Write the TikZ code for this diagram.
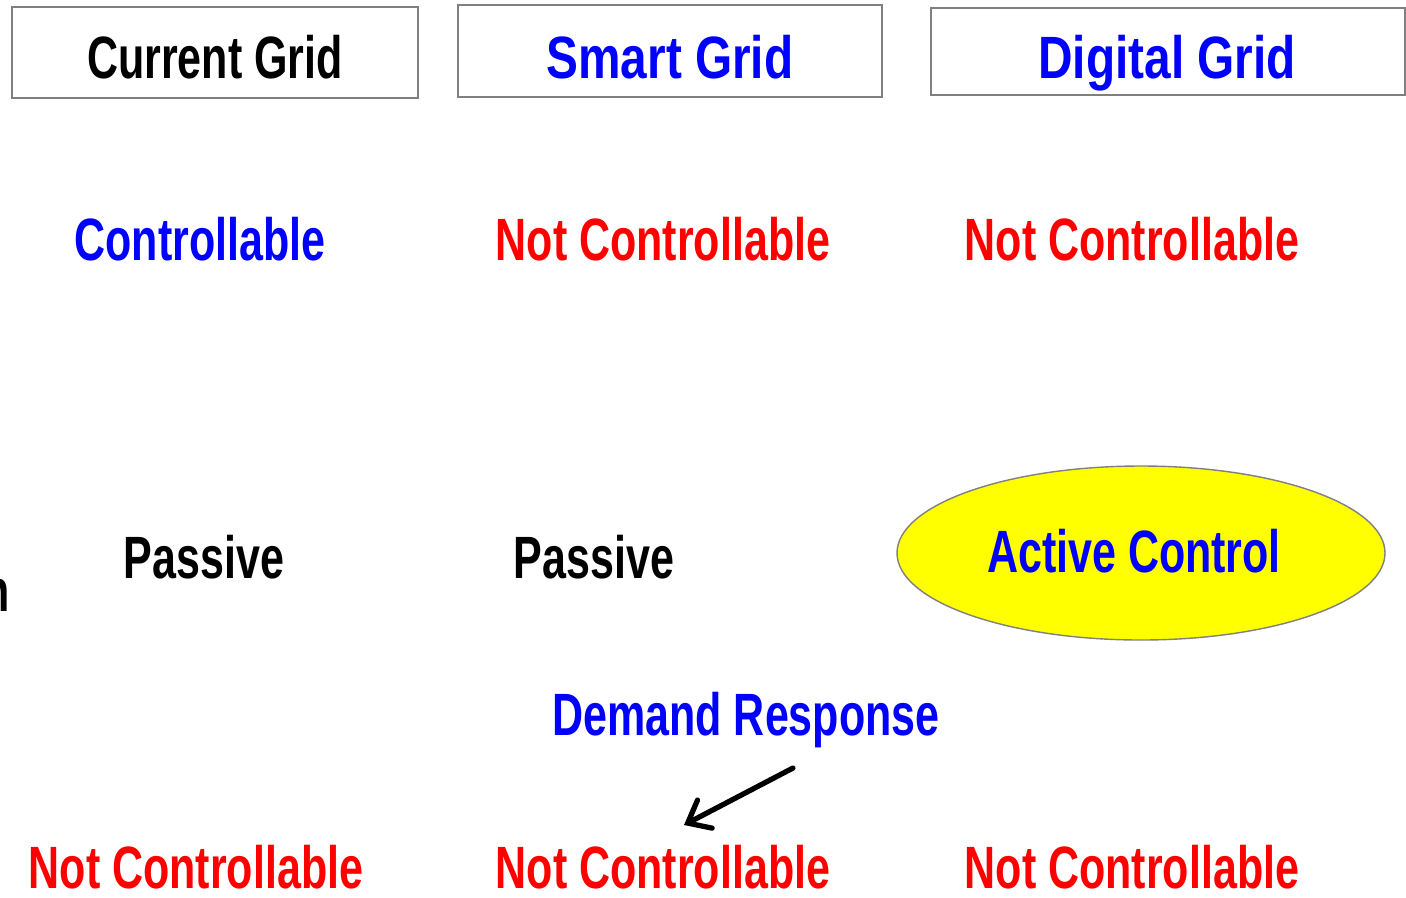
\documentclass[tikz,border=0pt]{standalone}
\usepackage{fontspec}
\setmainfont{Liberation Sans}[FakeStretch=0.72]
\newfontfamily\widefont{Liberation Sans}[FakeStretch=0.80]
\usetikzlibrary{arrows.meta,positioning,shapes.geometric}
\definecolor{gridblue}{RGB}{0,0,255}
\definecolor{gridred}{RGB}{255,0,0}
\definecolor{gridyellow}{RGB}{255,255,0}
\definecolor{gridgray}{RGB}{128,128,128}

\begin{document}
\begin{tikzpicture}[x=0.02cm,y=-0.02cm,
  txt/.style={font=\fontsize{34}{40}\selectfont\bfseries,inner sep=0pt,anchor=base},
  head/.style={draw=gridgray,line width=0.8pt}]
\useasboundingbox (0,0) rectangle (1406,897);
% column headings
\draw[head] (12,7) rectangle (418,98);
\draw[head] (458,5) rectangle (882,97);
\draw[head] (931,8) rectangle (1405,95);
\node[txt] (current) at (215,78) {Current Grid};
\node[txt,text=gridblue,font=\widefont\fontsize{34}{40}\selectfont\bfseries] (smart) at (670,78) {Smart Grid};
\node[txt,text=gridblue,font=\widefont\fontsize{34}{40}\selectfont\bfseries] (digital) at (1167,78) {Digital Grid};
% first row
\node[txt,text=gridblue] (ctrlA) at (200,260) {Controllable};
\node[txt,text=gridred] (ctrlB) at (663,260) {Not Controllable};
\node[txt,text=gridred] (ctrlC) at (1132,260) {Not Controllable};
% second row
\node[txt,anchor=base east] (cut) at (10,611) {n};
\node[txt] (passA) at (204,578) {Passive};
\node[txt] (passB) at (594,578) {Passive};
\draw[draw=gridgray,line width=0.8pt,fill=gridyellow] (1141,553) ellipse (244 and 87);
\node[txt,text=gridblue] (active) at (1134,572) {Active Control};
% third row
\node[txt,text=gridblue] (demand) at (746,735) {Demand Response};
\node[txt,text=gridred] (loadA) at (196,888) {Not Controllable};
\node[txt,text=gridred] (loadB) at (663,888) {Not Controllable};
\node[txt,text=gridred] (loadC) at (1132,888) {Not Controllable};
\coordinate (drtail) at (793,768);
\coordinate (drhead) at (684,825);
\draw[line width=3pt,line cap=round,-{Straight Barb[length=11pt,width=18pt,line cap=round]}] (drtail) -- (drhead);
\end{tikzpicture}
\end{document}
